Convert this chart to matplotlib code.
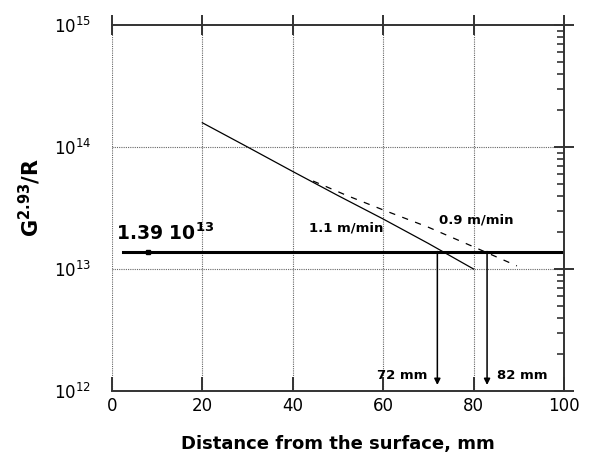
import matplotlib.pyplot as plt
import numpy as np
from matplotlib.ticker import LogLocator, FixedLocator, NullFormatter

plt.rcParams['font.family'] = 'DejaVu Sans'
plt.rcParams['mathtext.default'] = 'regular'

# 1.1 m/min curve
x_11 = [20, 30, 40, 50, 60, 70, 80]
y_11 = [1.58e14, 1.0e14, 6.3e13, 4.0e13, 2.57e13, 1.62e13, 1.0e13]
# 0.9 m/min curve (dashed)
x_09 = [44.5, 52, 60, 70, 80, 89.6]
y_09 = [5.26e13, 4.0e13, 3.05e13, 2.2e13, 1.52e13, 1.06e13]
# critical level
crit = 1.39e13
crit_x = [2.5, 100]
crit_mark = 8
# read-off depths
depths = [72, 83]
depth_labels = ['72 mm', '82 mm']
xticks = [0, 20, 40, 60, 80, 100]
yticks = [1e12, 1e13, 1e14, 1e15]

fig = plt.figure(figsize=(5.89, 4.55), dpi=100)
ax = fig.add_axes([0.190, 0.1407, 0.7674, 0.8044])

ax.set_yscale('log')
ax.set_xlim(0, 100)
ax.set_ylim(1e12, 1e15)

ax.plot(x_11, y_11, color='black', lw=0.9)
ax.plot(x_09, y_09, color='black', lw=0.9, linestyle=(0, (5, 6)))
ax.plot(crit_x, [crit, crit], color='black', lw=2.2)
ax.plot([crit_mark], [crit], marker='s', ms=3.5, color='black')

for d in depths:
    ax.annotate('', xy=(d, 1.12e12), xytext=(d, crit),
                arrowprops=dict(arrowstyle='-|>', color='black', lw=1.1,
                                mutation_scale=9, shrinkA=0, shrinkB=0))

ax.text(1, 1.6e13, '1.39 $10^{13}$', fontsize=13.5, fontweight='bold', ha='left', va='bottom')
ax.text(43.5, 2.15e13, '1.1 m/min', fontsize=9.5, fontweight='bold', ha='left', va='center')
ax.text(72.3, 2.5e13, '0.9 m/min', fontsize=9.5, fontweight='bold', ha='left', va='center')
ax.text(69.8, 1.33e12, depth_labels[0], fontsize=9.5, fontweight='bold', ha='right', va='center')
ax.text(85.3, 1.33e12, depth_labels[1], fontsize=9.5, fontweight='bold', ha='left', va='center')

# grid
for gx in [0, 20, 40, 60, 80]:
    ax.axvline(gx, color='0.4', lw=0.8, linestyle=(0, (1, 1)), zorder=0)
for gy in [1e13, 1e14]:
    ax.axhline(gy, color='0.4', lw=0.8, linestyle=(0, (1, 1)), zorder=0)

ax.spines['left'].set_visible(False)
for s in ['top', 'bottom', 'right']:
    ax.spines[s].set_linewidth(1.4)
    ax.spines[s].set_color('0.2')

ax.xaxis.set_major_locator(FixedLocator(xticks))
ax.yaxis.set_major_locator(FixedLocator(yticks))
ax.yaxis.set_minor_locator(LogLocator(base=10, subs=np.arange(2, 10)))
ax.yaxis.set_minor_formatter(NullFormatter())
ax.set_yticklabels(['$10^{%d}$' % int(np.log10(v)) for v in yticks])

ax.tick_params(axis='x', which='major', top=False, bottom=True, direction='in',
               length=10, width=1.4, color='0.2', labelsize=12, pad=4)
ax.tick_params(axis='y', which='major', left=False, right=True, direction='inout',
               length=14, width=1.4, color='0.2', labelsize=12, pad=8)
ax.tick_params(axis='y', which='minor', left=False, right=True, direction='in',
               length=5, width=1.2, color='0.2')

top = ax.secondary_xaxis('top')
top.set_xticks(xticks)
top.tick_params(direction='inout', length=14, width=1.4, color='0.2', labeltop=False)
top.spines['top'].set_visible(False)

ax.set_xlabel('Distance from the surface, mm', fontsize=13, fontweight='bold')
ax.set_ylabel('G$^{2.93}$/R', fontsize=15, fontweight='bold')
ax.xaxis.set_label_coords(0.5, -0.12)
ax.yaxis.set_label_coords(-0.152, 0.53)

fig.savefig('out.png', dpi=100)
